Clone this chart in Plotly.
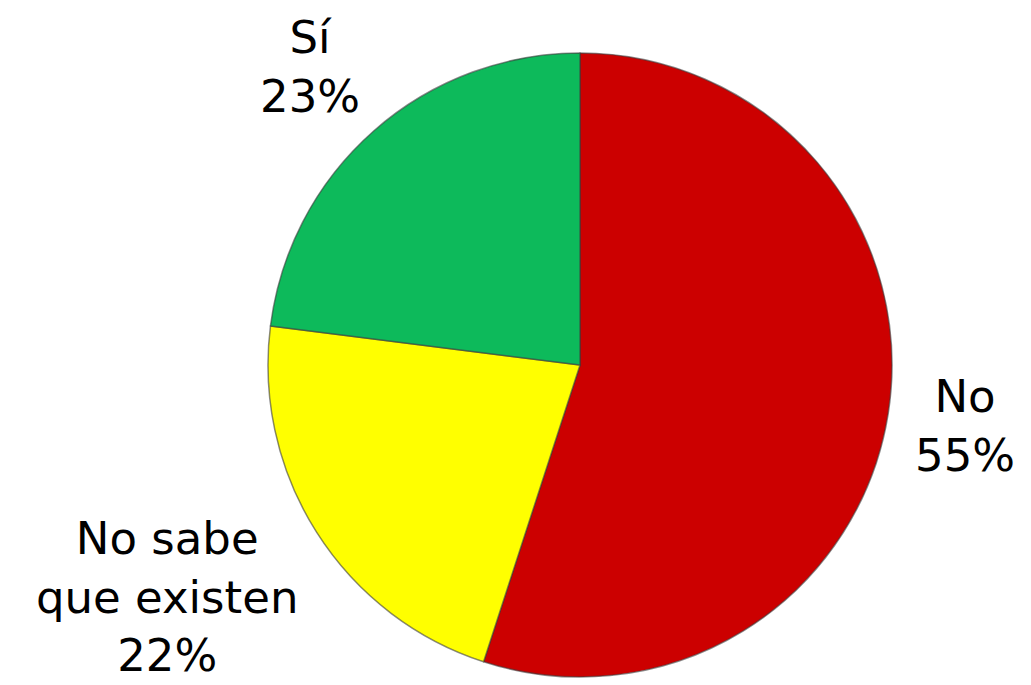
import math
import plotly.graph_objects as go

labels = ["No", "No sabe<br>que existen", "Sí"]
values = [55, 22, 23]
colors = ["#CC0000", "#FFFF00", "#0DBA5B"]

W, H = 1031, 685
cx, cy, r = 572, 357, 312
gap = 19
edge = 8
fsize = 45
font = dict(family="DejaVu Sans", size=fsize, color="black")

# approximate DejaVu Sans glyph advance widths (em) to size the label boxes
GLYPH = {"%": 0.95, "N": 0.748, "S": 0.635, " ": 0.318, "í": 0.278, "i": 0.278,
         "t": 0.392, "s": 0.521, "x": 0.592, "o": 0.612, "a": 0.613, "e": 0.615}


def text_width(line):
    return sum(GLYPH.get(ch, 0.636) for ch in line) * fsize


fig = go.Figure(go.Pie(
    labels=labels,
    values=values,
    sort=False,
    direction="clockwise",
    rotation=0,
    marker=dict(colors=colors, line=dict(color="rgba(60,60,60,0.6)", width=1.5)),
    textinfo="none",
    showlegend=False,
    hoverinfo="label+percent",
    domain=dict(x=[(cx - r) / W, (cx + r) / W], y=[(H - cy - r) / H, (H - cy + r) / H]),
))

# outside labels placed beyond each slice's mid-angle (derived from the values),
# kept inside the chart area
total = sum(values)
cum = 0
for lab, v in zip(labels, values):
    mid = (cum + v / 2) / total * 2 * math.pi
    cum += v
    ux, uy = math.sin(mid), math.cos(mid)
    text = f"{lab}<br>{round(v / total * 100)}%"
    lines = text.split("<br>")
    w = max(text_width(ln) for ln in lines)
    h = len(lines) * 1.3 * fsize
    d = r + gap + abs(ux) * w / 2 + abs(uy) * h / 2
    px, py = cx + d * ux, cy - d * uy
    px = min(max(px, w / 2), W - edge - w / 2)
    py = min(max(py, h / 2), H - edge - h / 2)
    fig.add_annotation(
        x=px / W, y=(H - py) / H, xref="paper", yref="paper",
        text=text, showarrow=False, xanchor="center", yanchor="middle",
        align="center", font=font,
    )

fig.update_layout(
    width=W, height=H,
    margin=dict(l=0, r=0, t=0, b=0),
    paper_bgcolor="white",
    plot_bgcolor="white",
)

fig.write_html("out.html")
